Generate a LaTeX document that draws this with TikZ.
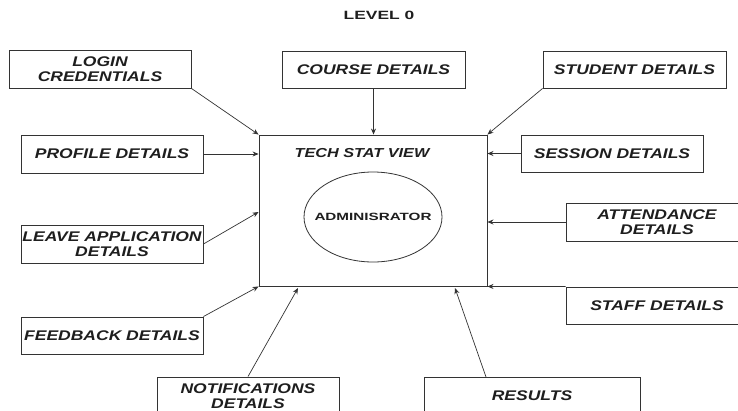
\documentclass[tikz,border=0pt]{standalone}
\usepackage{fontspec}
\setmainfont{Liberation Sans}
\newfontfamily\lblfont[FakeStretch=1.25]{Liberation Sans}
\newfontfamily\ttlfont[FakeStretch=1.45]{Liberation Sans}
\usetikzlibrary{arrows.meta,shapes.geometric}
\definecolor{ln}{HTML}{333333}
\definecolor{tx}{HTML}{1E1E1E}
\begin{document}
\begin{tikzpicture}[x=1pt,y=-1pt,
  box/.style={draw=ln,line width=0.9pt,fill=white,text=tx,inner sep=0pt,align=center,
    font=\lblfont\fontsize{14}{14.5}\selectfont\bfseries\itshape},
  flow/.style={draw=ln,line width=0.7pt,-{Stealth[length=6pt,width=5pt]}}]
\useasboundingbox (0,0) rectangle (738,410);
\clip (0,0) rectangle (738,410);
\node[text=tx,font=\ttlfont\fontsize{12}{12}\selectfont\bfseries] (title) at (379,15) {LEVEL 0};
% main process box
\node[draw=ln,line width=0.9pt,minimum width=228pt,minimum height=151pt,inner sep=0pt] (main) at (373,210.5) {};
\node[text=tx,font=\lblfont\fontsize{13}{13}\selectfont\bfseries\itshape] (tsv) at (362,153) {TECH STAT VIEW};
\node[draw=ln,line width=0.8pt,ellipse,minimum width=138pt,minimum height=90pt,inner sep=0pt] (admin) at (373,217) {};
\node[text=tx,font=\ttlfont\fontsize{10.5}{10.5}\selectfont\bfseries] (adminlbl) at (admin.center) {ADMINISRATOR};
% external entities
\node[box,minimum width=182pt,minimum height=38pt] (login) at (100,69) {LOGIN\\CREDENTIALS};
\node[box,minimum width=183pt,minimum height=37pt] (course) at (373.5,69.5) {COURSE DETAILS};
\node[box,minimum width=183pt,minimum height=37pt] (student) at (634.5,69.5) {STUDENT DETAILS};
\node[box,minimum width=182pt,minimum height=38pt] (profile) at (112,154) {PROFILE DETAILS};
\node[box,minimum width=182pt,minimum height=37pt] (session) at (612,153.5) {SESSION DETAILS};
\node[box,minimum width=182pt,minimum height=38pt] (leave) at (112,244) {LEAVE APPLICATION\\DETAILS};
\node[box,minimum width=182pt,minimum height=38pt] (attend) at (657,222) {ATTENDANCE\\DETAILS};
\node[box,minimum width=182pt,minimum height=37pt] (feedback) at (112,335.5) {FEEDBACK DETAILS};
\node[box,minimum width=182pt,minimum height=37pt] (staff) at (657,305.5) {STAFF DETAILS};
\node[box,minimum width=182pt,minimum height=38pt] (notif) at (248,396) {NOTIFICATIONS\\DETAILS};
\node[box,minimum width=216pt,minimum height=38pt] (results) at (532,396) {RESULTS};
% arrow end points
\coordinate (leaveIn) at (main.west |- 0,212);
\coordinate (notifIn) at (298,288);
\coordinate (resOut) at (486,377);
\coordinate (resIn) at (455,288);
% flows
\draw[flow] (login.south east) -- (main.north west);
\draw[flow] (course.south) -- (course.south |- main.north);
\draw[flow] (student.south west) -- (main.north east);
\draw[flow] (profile.east) -- (main.west |- profile.east);
\draw[flow] (session.west) -- (main.east |- session.west);
\draw[flow] (leave.east) -- (leaveIn);
\draw[flow] (attend.west) -- (main.east |- attend.west);
\draw[flow] (staff.north west) -- (main.south east);
\draw[flow] (feedback.north east) -- (main.south west);
\draw[flow] (notif.north) -- (notifIn);
\draw[flow] (resOut) -- (resIn);
\end{tikzpicture}
\end{document}
